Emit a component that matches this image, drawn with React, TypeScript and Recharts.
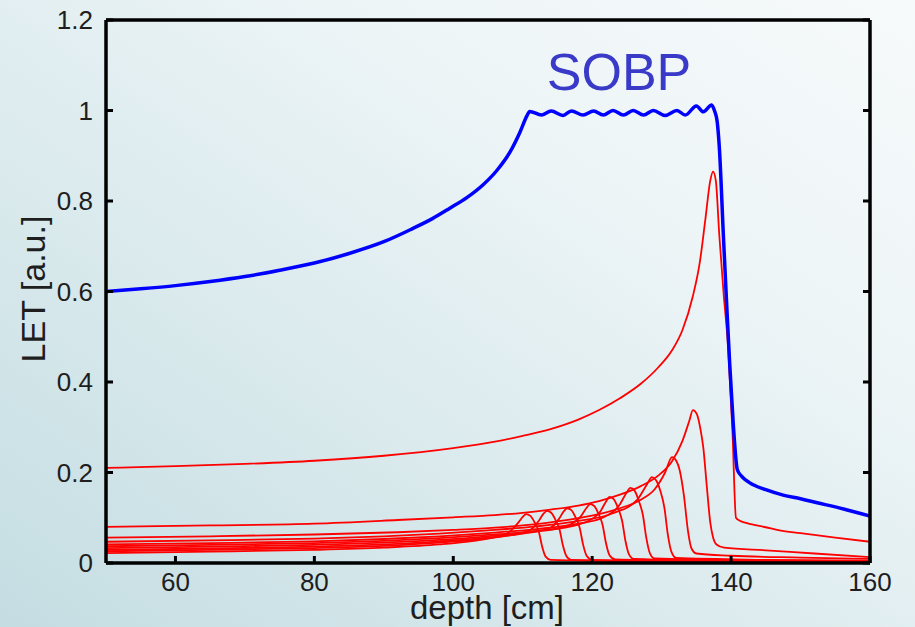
import React from 'react';
import { LineChart, Line, XAxis, YAxis } from 'recharts';

// ---- axis ticks ----
const xTicks = [60, 80, 100, 120, 140, 160];
const yTicks = [0, 0.2, 0.4, 0.6, 0.8, 1, 1.2];

// ---- SOBP (blue) ----
const sobpDepth = [50, 55, 60, 65, 70, 75, 80, 85, 90, 94, 97, 99.5, 102, 104.3, 106.3, 108.2, 109.6, 110.6, 111.0, 112.7, 114.1, 115.8, 117.0, 118.7, 120.2, 121.6, 123.0, 124.5, 125.9, 127.4, 128.8, 130.5, 132.2, 133.4, 135.0, 136.0, 137.2, 137.6, 138.0, 138.3, 138.9, 139.4, 139.8, 140.3, 140.9, 141.5, 142.7, 145, 147.5, 150, 152.4, 155, 157, 160];
const sobpLet = [0.600, 0.606, 0.613, 0.622, 0.633, 0.647, 0.663, 0.684, 0.710, 0.738, 0.761, 0.784, 0.808, 0.836, 0.868, 0.909, 0.952, 0.988, 0.998, 0.990, 0.999, 0.989, 0.999, 0.990, 0.999, 0.990, 1.000, 0.990, 1.000, 0.990, 1.000, 0.989, 1.000, 0.990, 1.010, 0.997, 1.012, 1.000, 0.975, 0.920, 0.720, 0.560, 0.440, 0.310, 0.206, 0.192, 0.177, 0.162, 0.150, 0.142, 0.133, 0.124, 0.116, 0.104];

// ---- pristine Bragg curves (red) ----
const bp1Depth = [50, 65, 80, 90, 98, 103, 106, 108, 109.3, 110, 110.5, 111.1, 111.7, 112.3, 112.8, 113.3, 114, 120, 140, 160];
const bp1Let = [0.022, 0.025, 0.029, 0.034, 0.041, 0.049, 0.057, 0.068, 0.088, 0.102, 0.108, 0.104, 0.090, 0.070, 0.036, 0.014, 0.007, 0.005, 0.004, 0.003];

const bp2Depth = [50, 65, 80, 90, 98, 104, 108, 111, 112.3, 113, 113.5, 114.1, 114.7, 115.3, 115.8, 116.3, 117, 125, 145, 160];
const bp2Let = [0.026, 0.029, 0.033, 0.038, 0.045, 0.053, 0.061, 0.072, 0.093, 0.109, 0.115, 0.111, 0.096, 0.074, 0.038, 0.015, 0.007, 0.005, 0.004, 0.003];

const bp3Depth = [50, 65, 80, 90, 98, 105, 110, 114, 115.2, 115.9, 116.4, 117, 117.6, 118.2, 118.7, 119.2, 120, 130, 150, 160];
const bp3Let = [0.029, 0.032, 0.036, 0.041, 0.048, 0.056, 0.065, 0.078, 0.097, 0.114, 0.121, 0.117, 0.101, 0.078, 0.040, 0.016, 0.007, 0.005, 0.004, 0.003];

const bp4Depth = [50, 65, 80, 90, 98, 105, 111, 116, 118.3, 119.2, 119.7, 120.3, 120.9, 121.5, 122, 122.5, 123.3, 135, 160];
const bp4Let = [0.033, 0.036, 0.040, 0.045, 0.051, 0.059, 0.068, 0.080, 0.102, 0.122, 0.130, 0.126, 0.109, 0.084, 0.043, 0.017, 0.008, 0.005, 0.003];

const bp5Depth = [50, 65, 80, 90, 98, 105, 112, 118, 121, 122, 122.5, 123.1, 123.7, 124.3, 124.8, 125.3, 126, 140, 160];
const bp5Let = [0.037, 0.040, 0.044, 0.049, 0.055, 0.062, 0.071, 0.085, 0.110, 0.136, 0.146, 0.141, 0.122, 0.094, 0.048, 0.019, 0.009, 0.005, 0.004];

const bp6Depth = [50, 65, 80, 90, 98, 105, 112, 118, 121.5, 124, 124.9, 125.5, 126.1, 126.7, 127.3, 127.8, 128.3, 129, 145, 160];
const bp6Let = [0.041, 0.044, 0.048, 0.053, 0.059, 0.066, 0.075, 0.087, 0.100, 0.130, 0.154, 0.166, 0.160, 0.138, 0.106, 0.055, 0.022, 0.010, 0.006, 0.004];

const bp7Depth = [50, 65, 80, 90, 98, 105, 112, 118, 123, 126.5, 127.9, 128.6, 129.2, 129.8, 130.4, 130.9, 131.4, 132.1, 145, 160];
const bp7Let = [0.047, 0.050, 0.054, 0.059, 0.065, 0.072, 0.081, 0.093, 0.110, 0.140, 0.174, 0.190, 0.183, 0.160, 0.122, 0.062, 0.025, 0.011, 0.007, 0.005];

const bp8Depth = [50, 65, 80, 92, 100, 106, 110, 114, 118, 121, 124, 127, 129, 130.5, 131.5, 132.1, 132.6, 133.2, 133.8, 134.3, 135, 140, 150, 160];
const bp8Let = [0.056, 0.059, 0.063, 0.068, 0.073, 0.078, 0.083, 0.090, 0.099, 0.108, 0.121, 0.140, 0.163, 0.200, 0.234, 0.226, 0.205, 0.150, 0.070, 0.032, 0.021, 0.016, 0.012, 0.009];

const bp9Depth = [50, 65, 80, 92, 100, 106, 110, 114, 118, 121, 124, 127, 129.5, 131.5, 133, 134, 134.5, 135.1, 135.6, 136.0, 136.5, 137.0, 137.4, 137.9, 139, 145, 152, 160];
const bp9Let = [0.080, 0.083, 0.087, 0.095, 0.101, 0.106, 0.111, 0.118, 0.127, 0.137, 0.151, 0.170, 0.193, 0.225, 0.270, 0.315, 0.338, 0.328, 0.295, 0.255, 0.170, 0.090, 0.057, 0.041, 0.034, 0.028, 0.021, 0.013];

const bp10Depth = [50, 60, 70, 80, 90, 100, 106, 110, 114, 118, 121, 124, 127, 129.5, 131.5, 133, 134.5, 135.5, 136.3, 137.0, 137.4, 137.8, 138.3, 138.9, 139.6, 140.2, 140.7, 141.2, 142.3, 145, 147, 150, 155, 160];
const bp10Let = [0.210, 0.214, 0.219, 0.226, 0.237, 0.254, 0.268, 0.281, 0.296, 0.317, 0.338, 0.364, 0.396, 0.432, 0.470, 0.515, 0.590, 0.665, 0.760, 0.845, 0.865, 0.845, 0.725, 0.600, 0.470, 0.290, 0.100, 0.094, 0.088, 0.079, 0.072, 0.066, 0.056, 0.047];

const toPoints = (d: number[], v: number[]) => d.map((x, i) => ({ depth: x, let: v[i] }));

const redCurves = [
  toPoints(bp1Depth, bp1Let),
  toPoints(bp2Depth, bp2Let),
  toPoints(bp3Depth, bp3Let),
  toPoints(bp4Depth, bp4Let),
  toPoints(bp5Depth, bp5Let),
  toPoints(bp6Depth, bp6Let),
  toPoints(bp7Depth, bp7Let),
  toPoints(bp8Depth, bp8Let),
  toPoints(bp9Depth, bp9Let),
  toPoints(bp10Depth, bp10Let),
];
const sobpPoints = toPoints(sobpDepth, sobpLet);

const EmptyTick = () => <g />;
const FONT = '"Liberation Sans", Arial, Helvetica, sans-serif';
const axisLineStyle = { stroke: '#000', strokeWidth: 3.5 };
const tickLineStyle = { stroke: '#000', strokeWidth: 3 };

export default function App() {
  return (
    <div
      style={{
        position: 'relative',
        width: 915,
        height: 627,
        background: 'linear-gradient(to top right, #c4dde2 0%, #dcebee 40%, #eef5f7 70%, #f6fafb 100%)',
        fontFamily: FONT,
        overflow: 'hidden',
      }}
    >
      <style>{`body{margin:0}`}</style>
      <LineChart width={915} height={627} margin={{ top: 19, right: 44, left: 0, bottom: 0 }} style={{ fontFamily: FONT }}>
        <XAxis
          xAxisId="b"
          dataKey="depth"
          type="number"
          domain={[50, 160]}
          allowDataOverflow
          ticks={xTicks}
          interval={0}
          orientation="bottom"
          height={64}
          axisLine={axisLineStyle}
          tickLine={tickLineStyle}
          tickSize={-7}
          tickMargin={17}
          tick={{ fontSize: 26, fill: '#1e1e1e', fontFamily: FONT }}
        />
        <XAxis
          xAxisId="t"
          type="number"
          domain={[50, 160]}
          allowDataOverflow
          ticks={xTicks}
          interval={0}
          orientation="top"
          height={1}
          axisLine={axisLineStyle}
          tickLine={tickLineStyle}
          tickSize={-7}
          tick={EmptyTick}
        />
        <YAxis
          yAxisId="l"
          type="number"
          domain={[0, 1.2]}
          allowDataOverflow
          ticks={yTicks}
          interval={0}
          orientation="left"
          width={106}
          axisLine={axisLineStyle}
          tickLine={tickLineStyle}
          tickSize={-7}
          tickMargin={20}
          tick={{ fontSize: 26, fill: '#1e1e1e', fontFamily: FONT }}
        />
        <YAxis
          yAxisId="r"
          type="number"
          domain={[0, 1.2]}
          allowDataOverflow
          ticks={yTicks}
          interval={0}
          orientation="right"
          width={1}
          axisLine={axisLineStyle}
          tickLine={tickLineStyle}
          tickSize={-7}
          tick={EmptyTick}
        />
        {redCurves.map((pts, i) => (
          <Line
            key={i}
            xAxisId="b"
            yAxisId="l"
            data={pts}
            dataKey="let"
            type="monotone"
            stroke="#ff0000"
            strokeWidth={1.8}
            dot={false}
            activeDot={false}
            isAnimationActive={false}
          />
        ))}
        <Line
          xAxisId="b"
          yAxisId="l"
          data={sobpPoints}
          dataKey="let"
          type="monotone"
          stroke="#0000ff"
          strokeWidth={3.5}
          dot={false}
          activeDot={false}
          isAnimationActive={false}
        />
      </LineChart>
      <svg
        width={915}
        height={627}
        style={{ position: 'absolute', left: 0, top: 0, pointerEvents: 'none' }}
      >
        <text x={619} y={90} textAnchor="middle" fontSize={52} fill="#3a3ac8" fontFamily={FONT}>
          SOBP
        </text>
        <text x={487} y={619} textAnchor="middle" fontSize={33} fill="#1e1e1e" fontFamily={FONT}>
          depth [cm]
        </text>
        <text
          transform="translate(45,289) rotate(-90)"
          textAnchor="middle"
          fontSize={34}
          fill="#1e1e1e"
          fontFamily={FONT}
        >
          LET [a.u.]
        </text>
      </svg>
    </div>
  );
}
